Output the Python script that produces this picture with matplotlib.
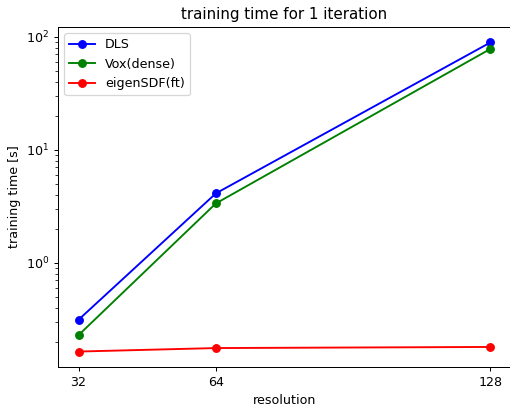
import matplotlib
matplotlib.use("Agg")
import matplotlib.pyplot as plt

# resolution vs training time (seconds)
resolution = [32, 64, 128]
dls_time = [0.312, 4.1, 89]
vox_time = [0.228, 3.34, 78]
eigensdf_time = [0.163, 0.175, 0.179]

# reference looks like a default figure scaled down by ~0.91, so use dpi 91
DPI = 91
fig = plt.figure(figsize=(511 / DPI, 405 / DPI), dpi=DPI)
ax = fig.add_axes([58 / 511, 1 - 367 / 405, (511 - 58) / 511, (367 - 27) / 405])

ax.plot(resolution, dls_time, marker='o', color='b', label='DLS')
ax.plot(resolution, vox_time, marker='o', color='g', label='Vox(dense)')
ax.plot(resolution, eigensdf_time, marker='o', color='r', label='eigenSDF(ft)')

ax.set_yscale('log')
ax.set_xticks(resolution)
ax.set_xticklabels([str(r) for r in resolution])
ax.set_xlabel('resolution')
ax.set_ylabel('training time [s]')
ax.set_title('training time for 1 iteration')
ax.legend(loc='upper left')

fig.savefig('out.png', dpi=DPI)
